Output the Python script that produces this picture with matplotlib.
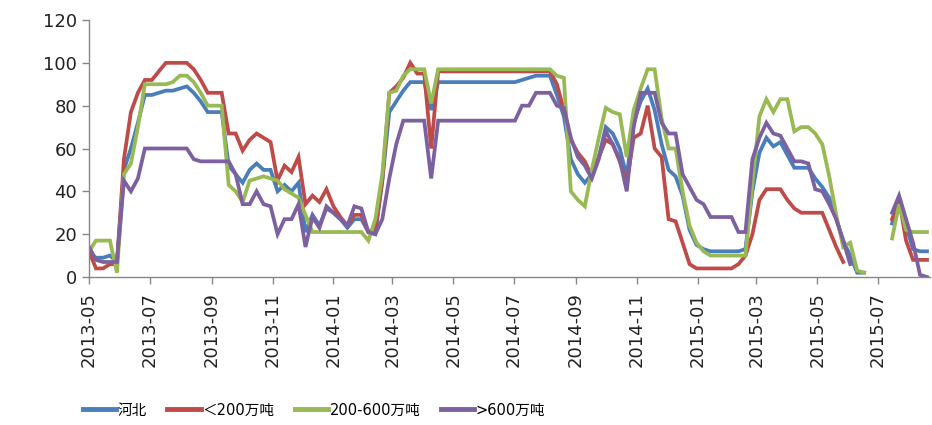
import numpy as np
import pandas as pd
import matplotlib
matplotlib.use("Agg")
import matplotlib.pyplot as plt
import matplotlib.dates as mdates

plt.rcParams['font.family'] = ['DejaVu Sans', 'Noto Sans CJK SC']

# 周度数据，2013-05 起
dates = pd.date_range('2013-05-01', periods=121, freq='7D')
nan = np.nan

hebei = [11, 9, 9, 10, 7,
         50, 60, 72, 85, 85,
         86, 87, 87, 88, 89,
         86, 82, 77, 77, 77,
         52, 48, 44, 50, 53,
         50, 50, 40, 43, 40,
         44, 21, 29, 24, 32,
         30, 27, 23, 27, 27,
         21, 20, 45, 77, 82,
         87, 91, 91, 91, 78,
         91, 91, 91, 91, 91,
         91, 91, 91, 91, 91,
         91, 91, 92, 93, 94,
         94, 94, 85, 75, 55,
         48, 44, 48, 56, 70,
         67, 60, 47, 72, 82,
         88, 78, 62, 50, 47,
         38, 22, 15, 13, 12,
         12, 12, 12, 12, 13,
         40, 58, 65, 61, 63,
         57, 51, 51, 51, 46,
         42, 37, 27, 17, 10,
         2, 2, nan, nan, nan,
         25, 36, 24, 13, 12, 12]

lt200 = [12, 4, 4, 6, 6,
         55, 77, 86, 92, 92,
         96, 100, 100, 100, 100,
         97, 92, 86, 86, 86,
         67, 67, 59, 64, 67,
         65, 63, 45, 52, 49,
         56, 34, 38, 35, 41,
         33, 28, 24, 29, 29,
         21, 22, 45, 86, 89,
         93, 100, 95, 95, 60,
         96, 96, 96, 96, 96,
         96, 96, 96, 96, 96,
         96, 96, 96, 96, 96,
         96, 96, 90, 78, 64,
         58, 54, 47, 56, 64,
         62, 54, 44, 65, 67,
         80, 60, 56, 27, 26,
         16, 6, 4, 4, 4,
         4, 4, 4, 6, 10,
         20, 36, 41, 41, 41,
         36, 32, 30, 30, 30,
         30, 22, 14, 7, nan,
         nan, nan, nan, nan, nan,
         27, 36, 17, 8, 8, 8]

mid = [12, 17, 17, 17, 2,
       48, 53, 70, 90, 90,
       90, 90, 91, 94, 94,
       91, 86, 80, 80, 80,
       43, 40, 35, 45, 46,
       47, 46, 45, 41, 39,
       37, 29, 21, 21, 21,
       21, 21, 21, 21, 21,
       17, 27, 48, 86, 87,
       94, 97, 97, 97, 81,
       97, 97, 97, 97, 97,
       97, 97, 97, 97, 97,
       97, 97, 97, 97, 97,
       97, 97, 94, 93, 40,
       36, 33, 50, 65, 79,
       77, 76, 56, 78, 88,
       97, 97, 74, 60, 60,
       40, 24, 16, 12, 10,
       10, 10, 10, 10, 10,
       44, 75, 83, 77, 83,
       83, 68, 70, 70, 67,
       62, 47, 29, 14, 16,
       3, 2, nan, nan, nan,
       18, 34, 22, 21, 21, 21]

gt600 = [14, 8, 7, 7, 7,
         45, 40, 46, 60, 60,
         60, 60, 60, 60, 60,
         55, 54, 54, 54, 54,
         54, 48, 34, 34, 40,
         34, 33, 20, 27, 27,
         34, 14, 28, 23, 33,
         30, 27, 24, 33, 32,
         21, 20, 27, 46, 62,
         73, 73, 73, 73, 46,
         73, 73, 73, 73, 73,
         73, 73, 73, 73, 73,
         73, 73, 80, 80, 86,
         86, 86, 80, 79, 65,
         56, 52, 46, 55, 68,
         62, 55, 40, 70, 86,
         86, 86, 72, 67, 67,
         48, 42, 36, 34, 28,
         28, 28, 28, 21, 21,
         55, 65, 72, 67, 66,
         60, 54, 54, 53, 41,
         40, 34, 27, 17, 6,
         nan, nan, nan, nan, nan,
         30, 38, 27, 16, 1, 0]

labels = ['河北', '＜200万吨', '200-600万吨', '>600万吨']
colors = ['#4A7EBB', '#BE4B48', '#98B954', '#7D60A0']

fig = plt.figure(figsize=(9.32, 4.25), dpi=100)
ax = fig.add_axes([89 / 932, 148 / 425, 841 / 932, 257 / 425])

for ys, lab, c in zip([hebei, lt200, mid, gt600], labels, colors):
    ax.plot(dates, ys, color=c, lw=2.7, label=lab, solid_joinstyle='miter')

ax.set_ylim(0, 120)
ax.set_yticks(range(0, 121, 20))
ax.set_xlim(pd.Timestamp('2013-05-01'), pd.Timestamp('2015-08-22'))
ax.xaxis.set_major_locator(mdates.MonthLocator(bymonth=[1, 3, 5, 7, 9, 11]))
ax.xaxis.set_major_formatter(mdates.DateFormatter('%Y-%m'))
plt.setp(ax.get_xticklabels(), rotation=90)

for s in ['top', 'right']:
    ax.spines[s].set_visible(False)
for s in ['left', 'bottom']:
    ax.spines[s].set_color('#868686')
    ax.spines[s].set_linewidth(1)
ax.tick_params(axis='both', colors='#868686', labelcolor='#222222',
               labelsize=13, length=5, width=1, direction='out')
ax.tick_params(axis='x', pad=6)

leg = fig.legend(loc='center', bbox_to_anchor=(314 / 932, 15 / 425), ncol=4,
                 frameon=False, fontsize=10.5, handlelength=2.3,
                 handletextpad=0.1, columnspacing=1.4)
for l in leg.get_lines():
    l.set_linewidth(3.5)

fig.savefig('out.png', dpi=100)
